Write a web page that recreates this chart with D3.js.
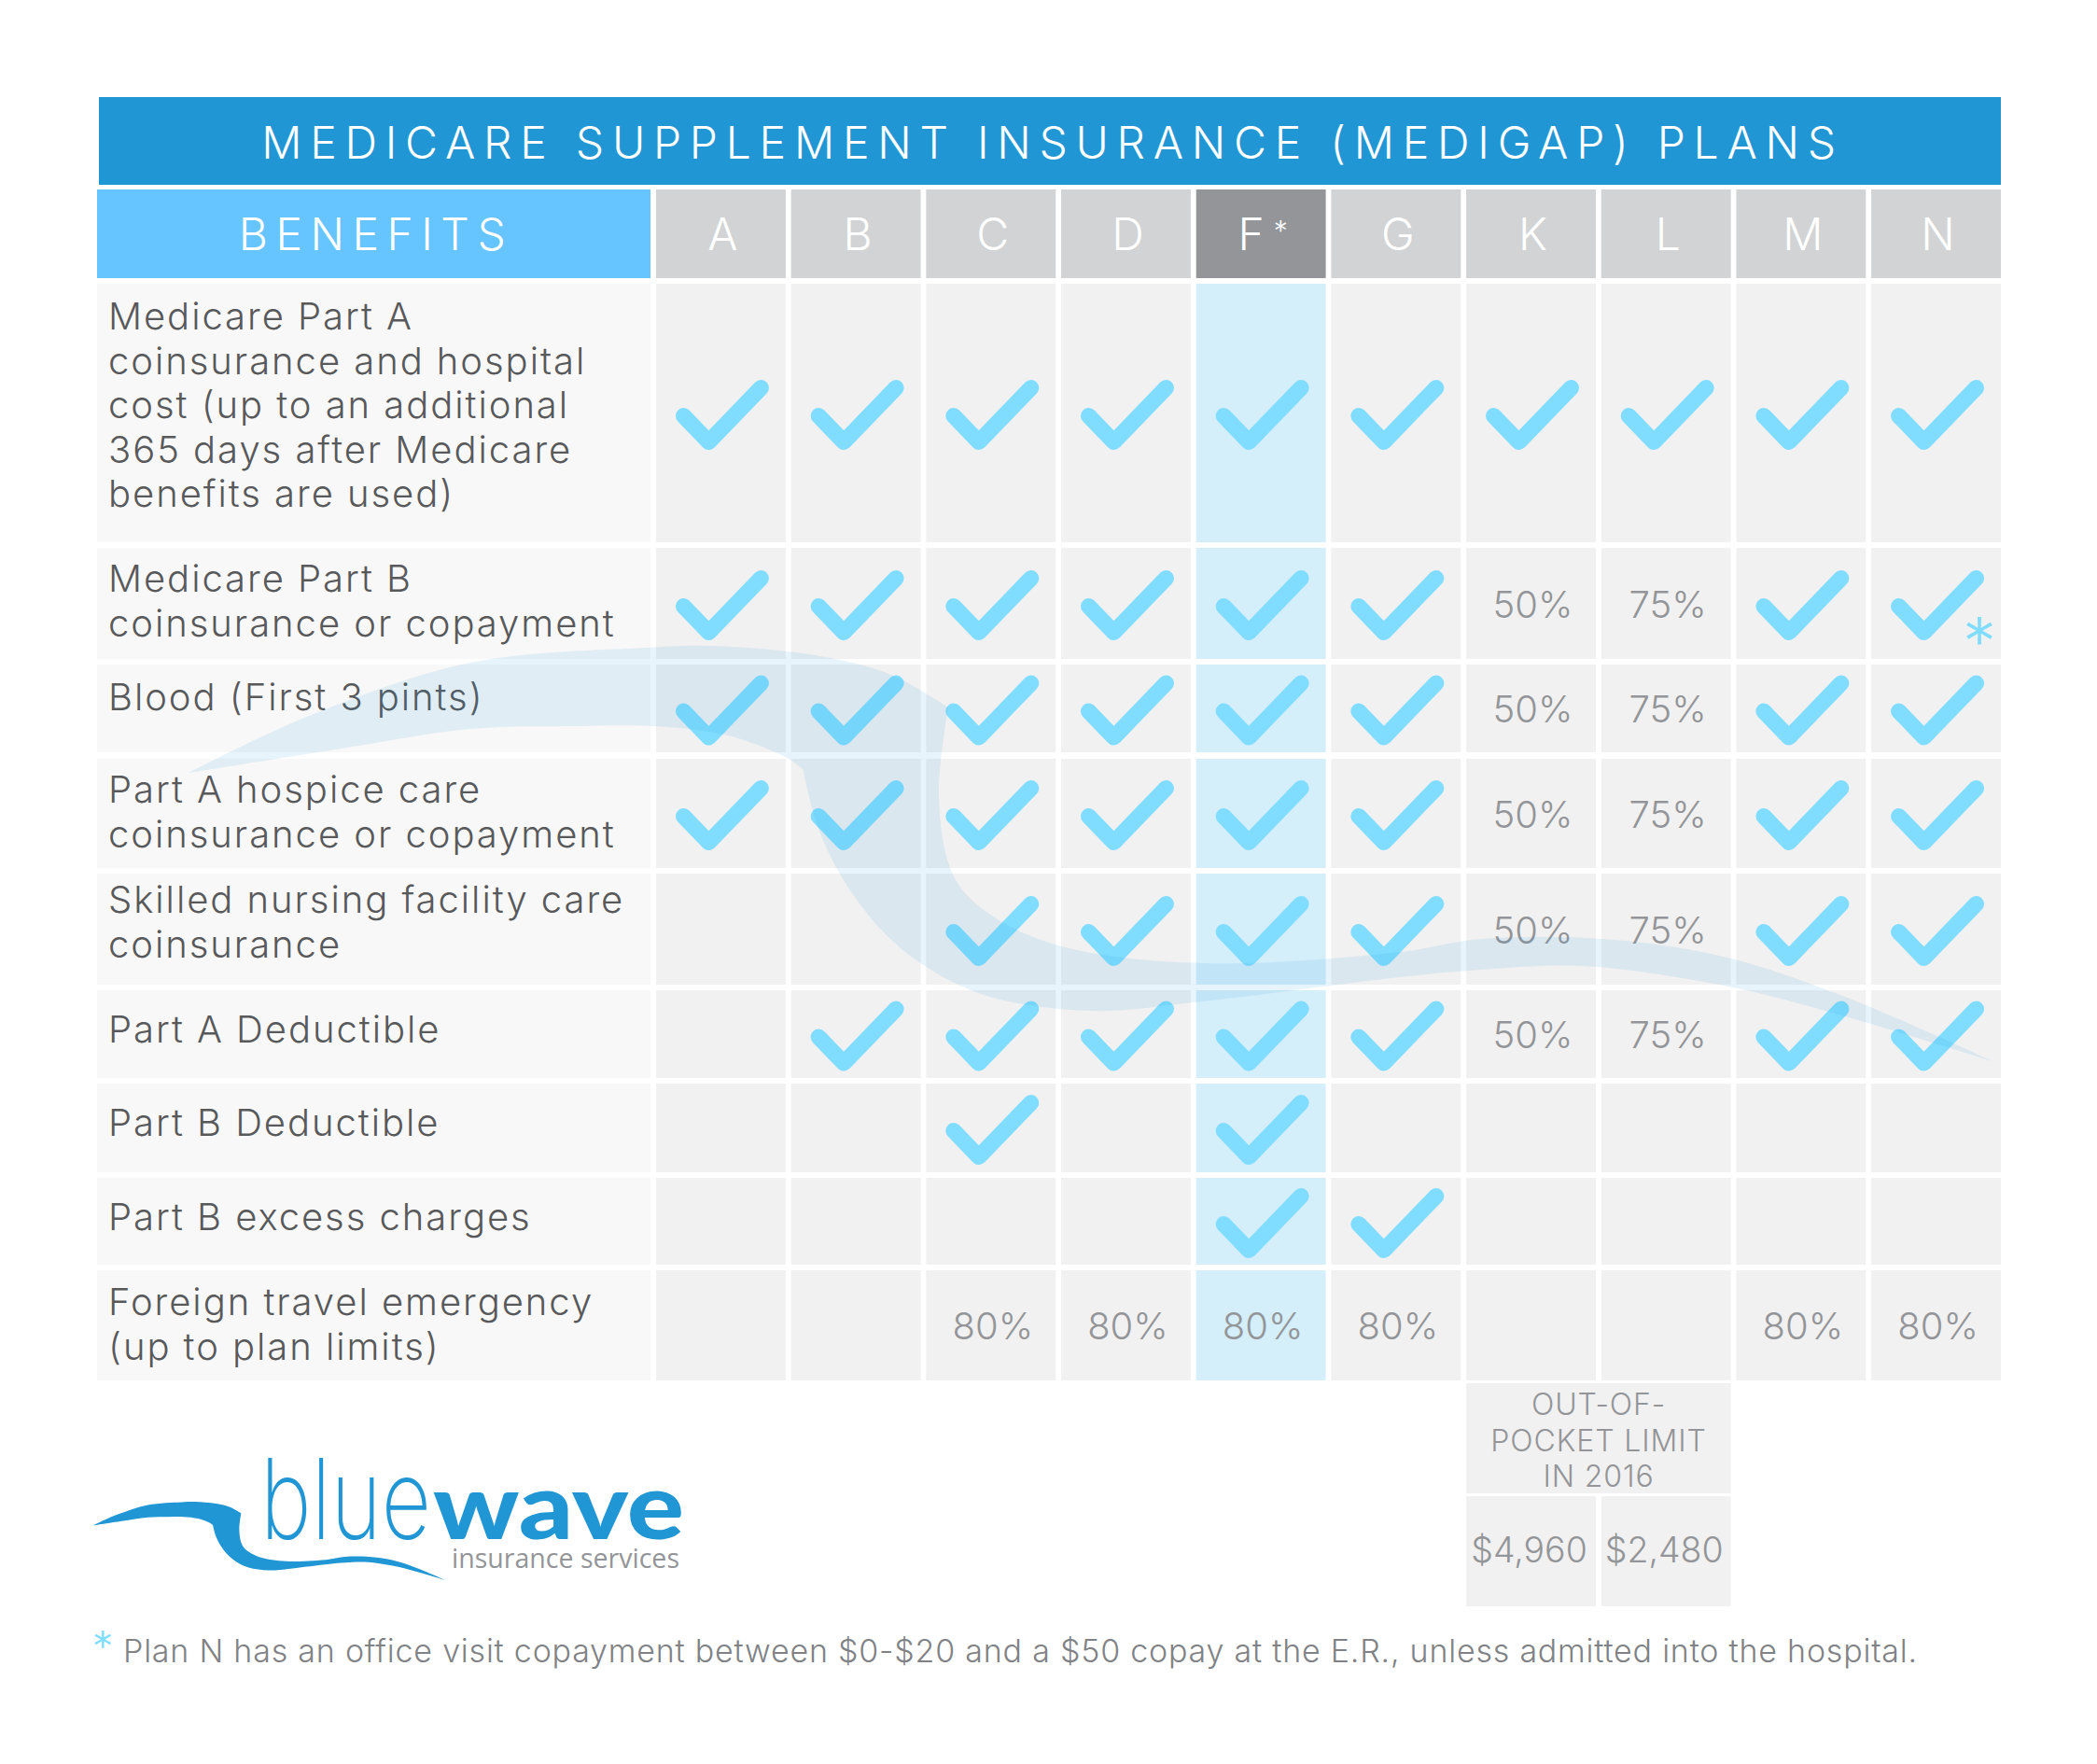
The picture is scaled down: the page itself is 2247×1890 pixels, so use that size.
<!DOCTYPE html>
<html>
<head>
<meta charset="utf-8">
<script src="https://cdn.jsdelivr.net/npm/d3@7/dist/d3.min.js"></script>
<style>
body { margin: 0; background: #fff; }
text { font-family: Inter, "Noto Sans", sans-serif; font-weight: 300; }
</style>
</head>
<body>
<div id="chart"></div>
<script>
const title = "MEDICARE SUPPLEMENT INSURANCE (MEDIGAP) PLANS";
const benefitsHeader = "BENEFITS";
const plans = ["A", "B", "C", "D", "F", "G", "K", "L", "M", "N"];
const highlightPlan = "F";

const benefitLines = [
    ["Medicare Part A", "coinsurance and hospital", "cost (up to an additional", "365 days after Medicare", "benefits are used)"],
    ["Medicare Part B", "coinsurance or copayment"],
    ["Blood (First 3 pints)"],
    ["Part A hospice care", "coinsurance or copayment"],
    ["Skilled nursing facility care", "coinsurance"],
    ["Part A Deductible"],
    ["Part B Deductible"],
    ["Part B excess charges"],
    ["Foreign travel emergency", "(up to plan limits)"]
];

// y = check mark, "" = not covered, anything else is printed
const coverage = [
    ["y", "y", "y", "y", "y", "y", "y", "y", "y", "y"],
    ["y", "y", "y", "y", "y", "y", "50%", "75%", "y", "y"],
    ["y", "y", "y", "y", "y", "y", "50%", "75%", "y", "y"],
    ["y", "y", "y", "y", "y", "y", "50%", "75%", "y", "y"],
    ["", "", "y", "y", "y", "y", "50%", "75%", "y", "y"],
    ["", "y", "y", "y", "y", "y", "50%", "75%", "y", "y"],
    ["", "", "y", "", "y", "", "", "", "", ""],
    ["", "", "", "", "y", "y", "", "", "", ""],
    ["", "", "80%", "80%", "80%", "80%", "", "", "80%", "80%"]
];

const limitLines = ["OUT-OF-", "POCKET LIMIT", "IN 2016"];
const limitPlans = ["K", "L"];
const limitValues = ["$4,960", "$2,480"];
const footnote = "Plan N has an office visit copayment between $0-$20 and a $50 copay at the E.R., unless admitted into the hospital.";

// layout, in page pixels
const rowTops = [304, 587, 712, 813, 936, 1061, 1161, 1262, 1361];
const rowBottoms = [581, 706, 806, 930, 1055, 1155, 1256, 1355, 1479];
const labelBaselines = [353, 634, 761, 860, 978, 1117, 1217, 1318, 1409];
const labelLineHeight = 47.5;

// wave outline, four edges meeting in sharp corners
const waveTop = [[202,828],[331,767],[504,710],[691,694],[761,692],[879,703],[955,723],[1016,758]];
const waveInner = [[1016,758],[1006,853],[1021,937],[1057,977],[1134,1013],[1287,1032],[1500,1020],[1587,1006],[1717,1006],[1847,1025],[1977,1068],[2135,1137]];
const waveOuter = [[2135,1137],[1977,1089],[1847,1056],[1695,1035],[1587,1039],[1500,1047],[1287,1073],[1169,1083],[1057,1067],[991,1035],[945,997],[904,943],[879,893],[863,837],[861,825]];
const waveTail = [[861,825],[845,813],[780,788],[700,778],[619,778],[504,781],[360,803],[202,828]];

const colors = {
    title: "#2196d4", benefits: "#66c4ff", head: "#d1d3d4", headHi: "#939598",
    label: "#f8f8f8", cell: "#f1f1f1", cellHi: "#d4eefa", check: "#80ddff",
    text: "#58595b", muted: "#939598", foot: "#808285"
};

const svg = d3.select("#chart").append("svg").attr("width", 2247).attr("height", 1890);

const x = d3.scaleBand().domain(plans).range([703, 2144]).paddingInner(0.04);
const rowIdx = d3.range(benefitLines.length);

// title and header
svg.append("rect").attr("x", 106).attr("y", 104).attr("width", 2144 - 106).attr("height", 94).attr("fill", colors.title);
svg.append("text").attr("x", 1128).attr("y", 170).attr("text-anchor", "middle")
    .attr("fill", "#fff").style("font-size", "48px").style("letter-spacing", "8.75px").text(title);

svg.append("rect").attr("x", 104).attr("y", 203).attr("width", 593).attr("height", 95).attr("fill", colors.benefits);
svg.append("text").attr("x", 403).attr("y", 268).attr("text-anchor", "middle")
    .attr("fill", "#fff").style("font-size", "48px").style("letter-spacing", "8.5px").text(benefitsHeader);

const heads = svg.append("g").selectAll("g").data(plans).join("g")
    .attr("transform", d => `translate(${x(d)},203)`);
heads.append("rect").attr("width", x.bandwidth()).attr("height", 95)
    .attr("fill", d => d === highlightPlan ? colors.headHi : colors.head);
const headText = heads.append("text").attr("x", x.bandwidth() / 2 + 2).attr("y", 65).attr("text-anchor", "middle")
    .attr("fill", "#fff").style("font-size", "48px").text(d => d);
headText.filter(d => d === highlightPlan).append("tspan")
    .attr("dx", 10).attr("dy", -10).style("font-size", "30px").text("*");

// benefit labels
const labelRows = svg.append("g").selectAll("g").data(rowIdx).join("g");
labelRows.append("rect").attr("x", 104).attr("y", i => rowTops[i]).attr("width", 593)
    .attr("height", i => rowBottoms[i] - rowTops[i]).attr("fill", colors.label);
labelRows.selectAll("text").data(i => benefitLines[i].map((line, j) => ({ line, y: labelBaselines[i] + j * labelLineHeight })))
    .join("text").attr("x", 116).attr("y", d => d.y).attr("fill", colors.text)
    .style("font-size", "40px").style("letter-spacing", "1.95px").text(d => d.line);

// grid cells
const cells = rowIdx.flatMap(i => plans.map((plan, j) => ({ i, plan, value: coverage[i][j] })));
const cellG = svg.append("g").selectAll("g").data(cells).join("g")
    .attr("transform", d => `translate(${x(d.plan)},${rowTops[d.i]})`);
cellG.append("rect").attr("width", x.bandwidth()).attr("height", d => rowBottoms[d.i] - rowTops[d.i])
    .attr("fill", d => d.plan === highlightPlan ? colors.cellHi : colors.cell);

const tick = d3.line();
cellG.filter(d => d.value === "y").append("path")
    .attr("transform", d => `translate(${x.bandwidth() / 2},${(rowBottoms[d.i] - rowTops[d.i]) / 2 + 2})`)
    .attr("d", tick([[-40, 1], [-13, 29], [43, -29]]))
    .attr("fill", "none").attr("stroke", colors.check).attr("stroke-width", 17)
    .attr("stroke-linecap", "round").attr("stroke-linejoin", "round");

cellG.filter(d => d.value && d.value !== "y").append("text")
    .attr("x", x.bandwidth() / 2 + 2).attr("y", d => (rowBottoms[d.i] - rowTops[d.i]) / 2 + 15)
    .attr("text-anchor", "middle").attr("fill", colors.muted).style("font-size", "40px").text(d => d.value);

// asterisk on plan N, Part B row
svg.append("text").attr("x", x("N") + 116).attr("y", 713).attr("text-anchor", "middle")
    .attr("fill", colors.check).style("font-size", "72px").text("*");

// out-of-pocket block
svg.append("rect").attr("x", x(limitPlans[0])).attr("y", 1482)
    .attr("width", x(limitPlans[1]) + x.bandwidth() - x(limitPlans[0])).attr("height", 118).attr("fill", colors.cell);
svg.append("g").selectAll("text").data(limitLines).join("text")
    .attr("x", x(limitPlans[0]) + 142).attr("y", (d, i) => 1516 + i * 38.5)
    .attr("text-anchor", "middle").attr("fill", colors.muted).style("font-size", "32px").style("letter-spacing", "0.9px").text(d => d);
const limitG = svg.append("g").selectAll("g").data(limitPlans).join("g")
    .attr("transform", d => `translate(${x(d)},1603)`);
limitG.append("rect").attr("width", x.bandwidth()).attr("height", 118).attr("fill", colors.cell);
limitG.append("text").attr("x", x.bandwidth() / 2 - 2).attr("y", 71).attr("text-anchor", "middle")
    .attr("fill", colors.muted).style("font-size", "37.5px").text((d, i) => limitValues[i]);

// wave, used big over the table and small in the logo
const edge = d3.line().curve(d3.curveCatmullRom.alpha(0.5));
const wavePath = [waveTop, waveInner, waveOuter, waveTail]
    .map((pts, i) => i === 0 ? edge(pts) : "L" + edge(pts).slice(1)).join("") + "Z";

svg.append("path").attr("d", wavePath).attr("fill", colors.title).attr("opacity", 0.1);

svg.append("path").attr("d", wavePath).attr("fill", colors.title)
    .attr("transform", `translate(${99.6 - 202 * 0.195},1609) scale(0.195,0.188) translate(0,-692)`);

// logo words
svg.append("text").attr("x", 279).attr("y", 1649).attr("fill", colors.title)
    .attr("textLength", 183).attr("lengthAdjust", "spacingAndGlyphs")
    .style("font-size", "120px").style("font-weight", 200).text("blue");
svg.append("text").attr("x", 464).attr("y", 1649).attr("fill", colors.title)
    .attr("textLength", 269).attr("lengthAdjust", "spacingAndGlyphs")
    .style("font-family", "Lato").style("font-size", "98px").style("font-weight", 900).text("wave");
svg.append("text").attr("x", 484).attr("y", 1680).attr("fill", colors.muted)
    .attr("textLength", 244).attr("lengthAdjust", "spacingAndGlyphs")
    .style("font-family", "'Open Sans'").style("font-size", "29px").style("font-weight", 400).text("insurance services");

// footnote
svg.append("text").attr("x", 110).attr("y", 1781).attr("text-anchor", "middle")
    .attr("fill", colors.check).style("font-size", "46px").text("*");
svg.append("text").attr("x", 132).attr("y", 1781).attr("fill", colors.foot)
    .style("font-size", "34px").style("letter-spacing", "0.78px").text(footnote);
</script>
</body>
</html>
